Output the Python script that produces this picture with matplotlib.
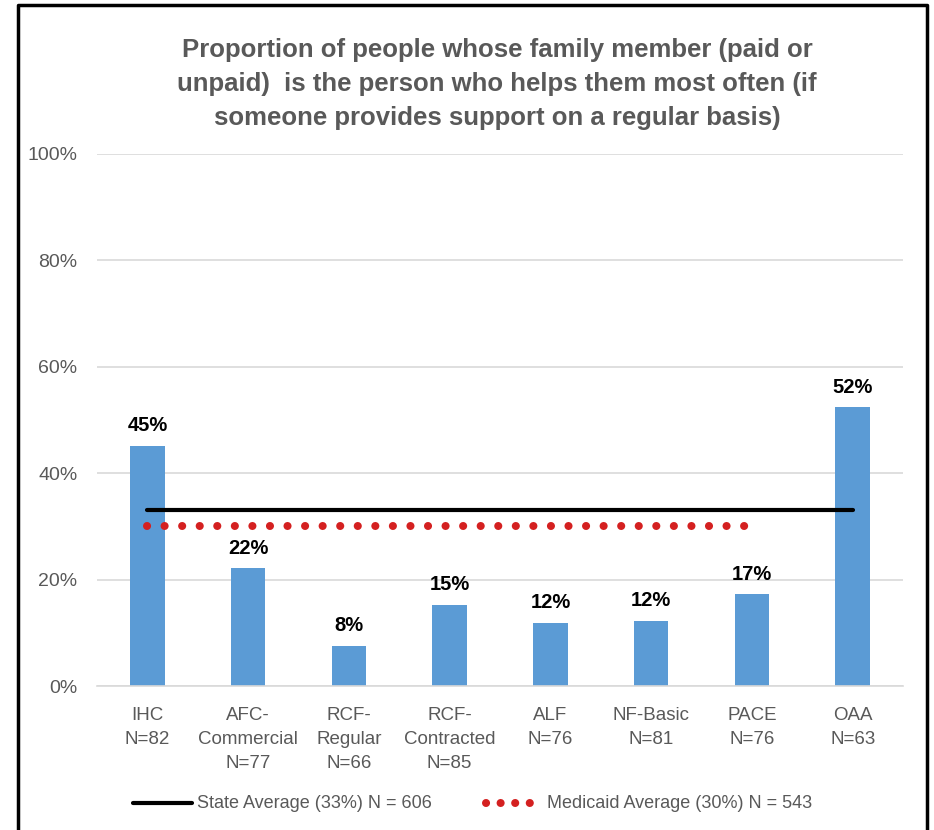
import matplotlib.pyplot as plt
from matplotlib import font_manager
from matplotlib.lines import Line2D

# names of fonts we'd like, first one found wins
wanted = ['Liberation Sans Narrow', 'Liberation Sans', 'DejaVu Sans']
have = {f.name for f in font_manager.fontManager.ttflist}
fam = [f for f in wanted if f in have] + ['DejaVu Sans']
plt.rcParams['font.family'] = fam

# data
categories = ['IHC\nN=82', 'AFC-\nCommercial\nN=77', 'RCF-\nRegular\nN=66',
              'RCF-\nContracted\nN=85', 'ALF\nN=76', 'NF-Basic\nN=81',
              'PACE\nN=76', 'OAA\nN=63']
values = [45.2, 22.1, 7.6, 15.3, 11.9, 12.2, 17.2, 52.4]
state_avg = 33
state_n = 606
medicaid_avg = 30
medicaid_n = 543
medicaid_groups = 7  # IHC .. PACE

title = ('Proportion of people whose family member (paid or\n'
         'unpaid)  is the person who helps them most often (if\n'
         'someone provides support on a regular basis)')

gray = '#595959'
blue = '#5B9BD5'
red = '#D42020'

fig = plt.figure(figsize=(9.34, 8.30), dpi=100)
ax = fig.add_axes([97 / 934, 1 - 686 / 830, 806 / 934, 532 / 830])

x = list(range(len(categories)))
bars = ax.bar(x, values, width=0.34, color=blue, zorder=2)
for b, v in zip(bars, values):
    ax.text(b.get_x() + b.get_width() / 2, v + 2.0, f'{v:.0f}%',
            ha='center', va='bottom', fontsize=14.5, fontweight='bold', color='black')

ax.plot([x[0], x[-1]], [state_avg, state_avg], color='black', lw=3,
        solid_capstyle='round', zorder=3)
ax.plot([x[0], x[medicaid_groups - 1]], [medicaid_avg, medicaid_avg], color=red,
        lw=5.8, linestyle=(0, (0.01, 2.17)), dash_capstyle='round', zorder=3)

ax.set_xlim(-0.5, len(categories) - 0.5)
ax.set_ylim(0, 100)
ax.set_yticks(range(0, 101, 20))
ax.set_yticklabels([f'{t}%' for t in range(0, 101, 20)])
ax.set_xticks(x)
ax.set_xticklabels(categories, linespacing=1.55, va='top')
ax.tick_params(length=0, labelsize=13.5, colors=gray)
ax.tick_params(axis='y', pad=14, labelsize=14)
ax.tick_params(axis='x', pad=15)
ax.grid(axis='y', color='#D9D9D9', lw=1.2, zorder=0)
for s in ['top', 'right', 'left']:
    ax.spines[s].set_visible(False)
ax.spines['bottom'].set_color('#D9D9D9')
ax.spines['bottom'].set_linewidth(1.2)

fig.text(497 / 934, 1 - 84 / 830, title, ha='center', va='center', fontsize=18.5,
         fontweight='bold', color=gray, linespacing=1.5)

# legend drawn by hand along the bottom
ly = 1 - 803 / 830
fig.add_artist(Line2D([133 / 934, 192 / 934], [ly, ly], color='black', lw=3,
                      solid_capstyle='round'))
fig.text(197 / 934, ly, f'State Average ({state_avg}%) N = {state_n}', ha='left',
         va='center', fontsize=13, color=gray)
fig.add_artist(Line2D([486 / 934, 531 / 934], [ly, ly], color=red, lw=5.8,
                      linestyle=(0, (0.01, 1.8)), dash_capstyle='round'))
fig.text(547 / 934, ly, f'Medicaid Average ({medicaid_avg}%) N = {medicaid_n}', ha='left',
         va='center', fontsize=13, color=gray)

# outer frame (open at the bottom)
frame_l, frame_r, frame_t = 18 / 934, 927 / 934, 1 - 5 / 830
fig.add_artist(Line2D([frame_l, frame_l, frame_r, frame_r], [0, frame_t, frame_t, 0],
                      color='black', lw=2.5))

fig.savefig('out.png', dpi=100)
